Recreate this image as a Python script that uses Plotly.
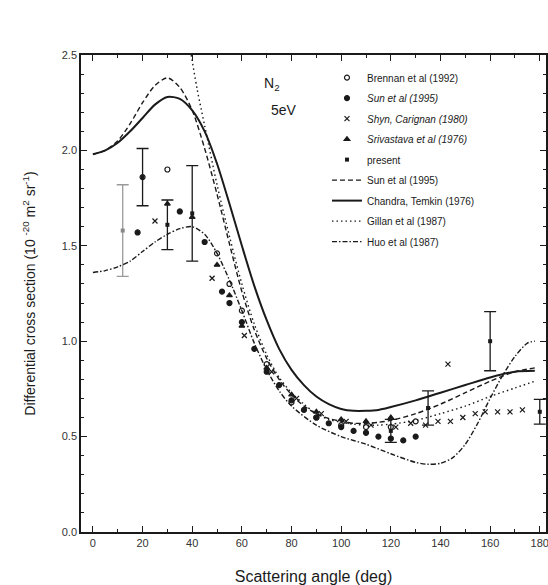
import plotly.graph_objects as go

# ---- theory curves ----
angle_ct = [0, 5, 10, 15, 20, 25, 30, 35, 40, 45, 50, 55, 60, 65, 70, 75, 80, 85, 90, 95, 100, 105, 110, 115, 120, 130, 140, 150, 160, 170, 178]
chandra = [1.98, 2.00, 2.04, 2.10, 2.17, 2.24, 2.28, 2.27, 2.21, 2.10, 1.93, 1.72, 1.50, 1.29, 1.11, 0.96, 0.85, 0.77, 0.71, 0.67, 0.645, 0.635, 0.635, 0.64, 0.655, 0.69, 0.73, 0.77, 0.81, 0.84, 0.845]

angle_sun_th = [0, 5, 10, 15, 20, 25, 30, 35, 40, 45, 50, 55, 60, 65, 70, 75, 80, 85, 90, 95, 100, 105, 110, 115, 120, 130, 140, 150, 160, 170, 178]
sun_theory = [1.98, 2.00, 2.05, 2.14, 2.25, 2.34, 2.38, 2.33, 2.21, 2.01, 1.77, 1.51, 1.26, 1.06, 0.91, 0.80, 0.72, 0.66, 0.62, 0.595, 0.58, 0.57, 0.57, 0.575, 0.585, 0.62, 0.67, 0.73, 0.79, 0.84, 0.86]

angle_gillan = [36, 39, 42, 45, 50, 55, 60, 65, 70, 75, 80, 85, 90, 95, 100, 105, 110, 115, 120, 130, 140, 150, 160, 170, 178]
gillan = [2.85, 2.55, 2.32, 2.13, 1.82, 1.55, 1.30, 1.09, 0.93, 0.81, 0.73, 0.67, 0.62, 0.59, 0.575, 0.565, 0.56, 0.56, 0.565, 0.585, 0.62, 0.66, 0.71, 0.755, 0.79]

angle_huo = [0, 5, 10, 15, 20, 25, 30, 35, 40, 45, 50, 55, 60, 65, 70, 75, 80, 90, 100, 110, 120, 130, 135, 140, 145, 150, 155, 160, 165, 170, 175, 178]
huo = [1.36, 1.37, 1.39, 1.42, 1.47, 1.52, 1.56, 1.59, 1.60, 1.56, 1.46, 1.32, 1.16, 0.99, 0.85, 0.74, 0.66, 0.56, 0.50, 0.46, 0.41, 0.365, 0.355, 0.36, 0.39, 0.46, 0.57, 0.70, 0.82, 0.92, 0.99, 1.00]

# ---- experimental data ----
brennan_x = [20, 30, 50, 55, 60, 70, 80, 90, 100, 110, 120, 130]
brennan_y = [1.86, 1.90, 1.46, 1.30, 1.16, 0.88, 0.68, 0.60, 0.56, 0.55, 0.55, 0.58]

sun_x = [18, 35, 45, 52, 55, 60, 65, 70, 75, 80, 85, 90, 95, 100, 105, 110, 115, 120, 125, 130]
sun_y = [1.57, 1.68, 1.52, 1.26, 1.20, 1.10, 0.96, 0.84, 0.77, 0.69, 0.64, 0.60, 0.57, 0.55, 0.53, 0.52, 0.50, 0.49, 0.48, 0.50]

shyn_x = [25, 48, 61, 72, 82, 92, 102, 112, 122, 128, 134, 139, 143, 144, 149, 154, 158, 163, 168, 173]
shyn_y = [1.63, 1.33, 1.03, 0.84, 0.70, 0.62, 0.58, 0.56, 0.55, 0.57, 0.56, 0.58, 0.88, 0.58, 0.60, 0.62, 0.63, 0.63, 0.63, 0.64]

sriv_x = [30, 40, 50, 55, 60, 70, 80, 90, 100, 110, 120]
sriv_y = [1.72, 1.65, 1.40, 1.24, 1.08, 0.86, 0.72, 0.63, 0.59, 0.58, 0.60]

present_x = [12, 20, 30, 40, 120, 135, 160, 180]
present_y = [1.58, 1.86, 1.61, 1.67, 0.53, 0.65, 1.00, 0.63]
present_err = [0.24, 0.15, 0.13, 0.25, 0.06, 0.09, 0.155, 0.065]

x_ticks = [0, 20, 40, 60, 80, 100, 120, 140, 160, 180]
y_ticks = [0.0, 0.5, 1.0, 1.5, 2.0, 2.5]

FONT = "Liberation Sans, Arial, sans-serif"
INK = "#1a1a1a"

fig = go.Figure()

def pts(name, x, y, symbol, size, italic=False, group=None):
    fig.add_trace(go.Scatter(
        x=x, y=y, mode="markers", name=(f"<i>{name}</i>" if italic else name),
        legendgroup=group or name,
        marker=dict(symbol=symbol, size=size, color=INK,
                    line=dict(color=INK, width=1.2)),
        cliponaxis=False))

pts("Brennan et al (1992)", brennan_x, brennan_y, "circle-open", 5)
pts("Sun et al (1995)", sun_x, sun_y, "circle", 5, italic=True, group="sund")
pts("Shyn, Carignan (1980)", shyn_x, shyn_y, "x-thin-open", 5, italic=True)
pts("Srivastava et al (1976)", sriv_x, sriv_y, "triangle-up", 5, italic=True)

# present data, first point drawn with grey error bar
fig.add_trace(go.Scatter(
    x=present_x[1:], y=present_y[1:], mode="markers", name="present",
    legendgroup="present",
    marker=dict(symbol="square", size=4, color=INK),
    error_y=dict(type="data", array=present_err[1:], visible=True,
                 color=INK, thickness=1.3, width=6),
    cliponaxis=False))
fig.add_trace(go.Scatter(
    x=present_x[:1], y=present_y[:1], mode="markers", showlegend=False,
    legendgroup="present",
    marker=dict(symbol="square", size=4, color="#888888"),
    error_y=dict(type="data", array=present_err[:1], visible=True,
                 color="#9a9a9a", thickness=1.3, width=6)))

def curve(name, x, y, dash, width, group):
    fig.add_trace(go.Scatter(
        x=x, y=y, mode="lines", name=name, legendgroup=group,
        line=dict(color=INK, width=width, dash=dash, shape="spline", smoothing=0.8)))

curve("Sun et al (1995)", angle_sun_th, sun_theory, "5px,3px", 1.4, "sunt")
curve("Chandra, Temkin (1976)", angle_ct, chandra, "solid", 2.0, "ct")
curve("Gillan et al (1987)", angle_gillan, gillan, "1.5px,3px", 1.4, "gil")
curve("Huo et al (1987)", angle_huo, huo, "5px,2px,1.5px,2px", 1.4, "huo")

fig.add_annotation(x=72, y=2.35, xref="x", yref="y", text="N<sub>2</sub>",
                   showarrow=False, font=dict(family=FONT, size=14, color=INK))
fig.add_annotation(x=77, y=2.21, xref="x", yref="y", text="5eV",
                   showarrow=False, font=dict(family=FONT, size=14, color=INK))

axis_common = dict(
    showline=True, linecolor=INK, linewidth=1.5, mirror="ticks",
    ticks="inside", ticklen=6, tickwidth=1.3, tickcolor=INK,
    showgrid=False, zeroline=False, automargin=False,
    ticklabeloverflow="allow",
    tickfont=dict(family=FONT, size=11, color="#333333"),
)

fig.update_xaxes(range=[-4.8, 182.5], tickvals=x_ticks,
                 minor=dict(dtick=10, ticks="inside", ticklen=3, tickcolor=INK, tickwidth=1.2),
                 title=dict(text="Scattering angle (deg)", standoff=23,
                            font=dict(family=FONT, size=16, color=INK)),
                 **axis_common)
fig.update_yaxes(range=[0, 2.5], tickvals=y_ticks, tickformat=".1f",
                 minor=dict(dtick=0.1, ticks="inside", ticklen=3, tickcolor=INK, tickwidth=1.2),
                 title=dict(text="Differential cross section (10 <sup>-20</sup> m<sup>2</sup> sr<sup>-1</sup>)",
                            standoff=23, font=dict(family=FONT, size=14, color=INK)),
                 **axis_common)

fig.update_layout(
    width=548, height=585,
    margin=dict(l=81, r=2, t=55, b=53),
    paper_bgcolor="white", plot_bgcolor="white",
    showlegend=True,
    legend=dict(x=0.529, y=0.983, xanchor="left", yanchor="top",
                bgcolor="rgba(0,0,0,0)", borderwidth=0,
                tracegroupgap=1.5, itemwidth=30,
                font=dict(family=FONT, size=10, color=INK)),
)

# remove the default page margin so the 548x585 figure fills the window exactly
fig.write_html("out.html",
               config={"displayModeBar": False},
               post_script="document.body.style.margin='0';document.body.style.overflow='hidden';")
